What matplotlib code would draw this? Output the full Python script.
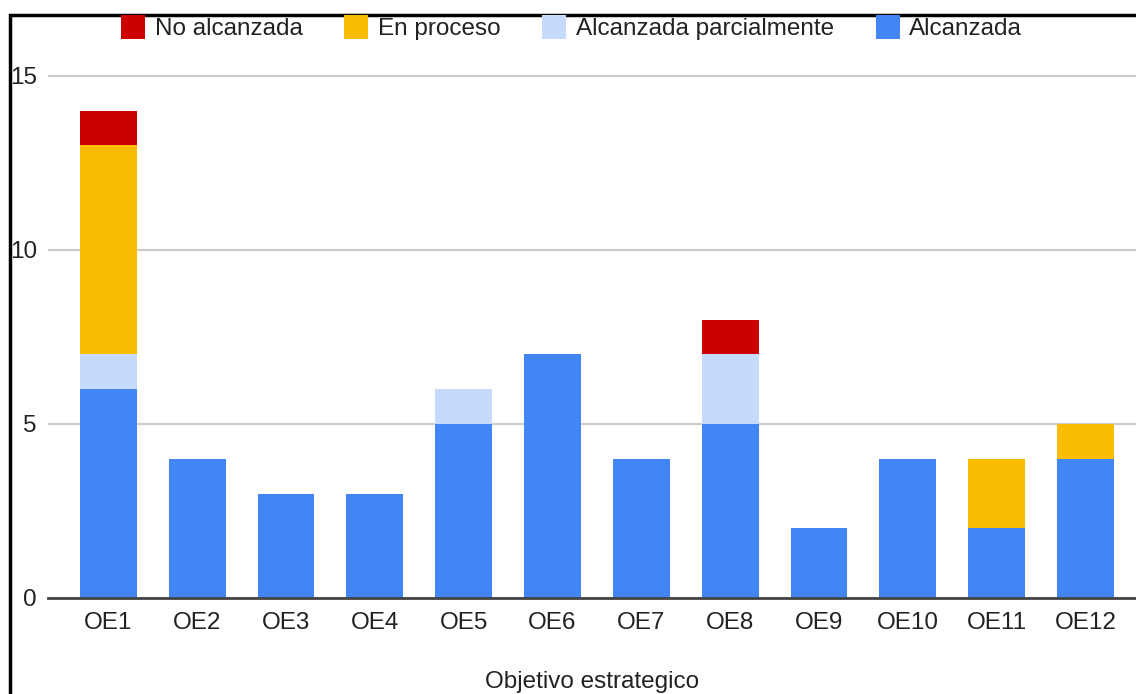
import matplotlib
matplotlib.use("Agg")
import matplotlib.pyplot as plt
import numpy as np
from matplotlib.lines import Line2D
from matplotlib.patches import Rectangle

# data
categories = ["OE1", "OE2", "OE3", "OE4", "OE5", "OE6",
              "OE7", "OE8", "OE9", "OE10", "OE11", "OE12"]
alcanzada = [6, 4, 3, 3, 5, 7, 4, 5, 2, 4, 2, 4]
parcial = [1, 0, 0, 0, 1, 0, 0, 2, 0, 0, 0, 0]
en_proceso = [6, 0, 0, 0, 0, 0, 0, 0, 0, 0, 2, 1]
no_alcanzada = [1, 0, 0, 0, 0, 0, 0, 1, 0, 0, 0, 0]

series = [
    ("Alcanzada", alcanzada, "#4285F4"),
    ("Alcanzada parcialmente", parcial, "#C6DAFC"),
    ("En proceso", en_proceso, "#FBBC04"),
    ("No alcanzada", no_alcanzada, "#CC0000"),
]
legend_order = ["No alcanzada", "En proceso", "Alcanzada parcialmente", "Alcanzada"]

plt.rcParams["font.family"] = ["Liberation Sans", "DejaVu Sans"]
TXT = "#222222"
FS = 17.5

W, H = 1136, 694
fig = plt.figure(figsize=(W / 100, H / 100), dpi=100)
ax = fig.add_axes([48 / W, 96 / H, 1 - 48 / W, (598 - 41) / H])

x = np.arange(len(categories))
bottom = np.zeros(len(categories))
colors = {}
for name, vals, col in series:
    vals = np.array(vals, dtype=float)
    ax.bar(x, vals, bottom=bottom, width=0.64, color=col, zorder=3, linewidth=0)
    bottom += vals
    colors[name] = col

ax.set_ylim(0, 16)
ax.set_xlim(-0.68, 11.57)
ax.set_yticks([0, 5, 10, 15])
ax.set_xticks(x)
ax.set_xticklabels(categories)
ax.yaxis.grid(True, color="#cccccc", linewidth=1.5, zorder=0)
ax.tick_params(axis="both", length=0, labelsize=FS, colors=TXT)
ax.tick_params(axis="x", pad=10)
ax.tick_params(axis="y", pad=8)
for s in ["top", "right", "left"]:
    ax.spines[s].set_visible(False)
ax.spines["bottom"].set_color("#444444")
ax.spines["bottom"].set_linewidth(2)
ax.spines["bottom"].set_zorder(4)
ax.set_xlabel("Objetivo estrategico", fontsize=FS, color=TXT, labelpad=27)

handles = [Line2D([], [], marker="s", linestyle="none", markersize=17,
                  markerfacecolor=colors[n], markeredgewidth=0, label=n)
           for n in legend_order]
fig.legend(handles=handles, loc="center", bbox_to_anchor=(0.502, 1 - 29 / H),
           ncol=4, frameon=False, fontsize=FS, handletextpad=0.3,
           handlelength=1.2, columnspacing=1.6, labelcolor=TXT)

# black frame of the screenshot (left and top edges)
fig.add_artist(Rectangle((9.5 / W, -0.1), 1.2, 1 - 14.5 / H + 0.1,
                         transform=fig.transFigure, fill=False,
                         edgecolor="black", linewidth=2.5, clip_on=False))

fig.savefig("out.png", dpi=100, facecolor="white")
